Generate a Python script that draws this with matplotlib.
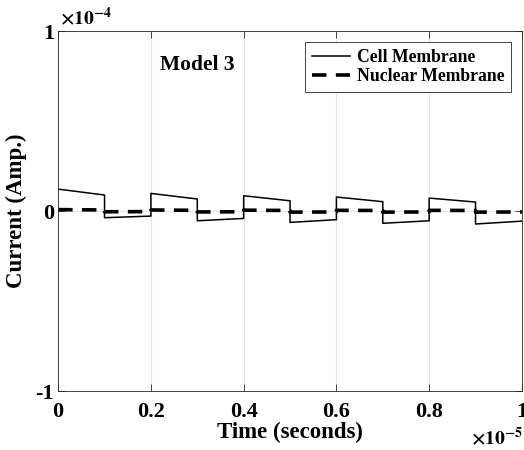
import numpy as np
import matplotlib
matplotlib.use('Agg')
import matplotlib.pyplot as plt

# switching period boundaries (seconds)
seg_edges = [0, 0.1e-5, 0.2e-5, 0.3e-5, 0.4e-5, 0.5e-5, 0.6e-5, 0.7e-5, 0.8e-5, 0.9e-5, 1.0e-5]
# cell membrane current at start / end of each segment (Amp.)
cell_start = [0.122e-4, -0.037e-4, 0.098e-4, -0.054e-4, 0.085e-4, -0.063e-4, 0.078e-4, -0.068e-4, 0.072e-4, -0.072e-4]
cell_end = [0.089e-4, -0.028e-4, 0.067e-4, -0.041e-4, 0.057e-4, -0.048e-4, 0.052e-4, -0.054e-4, 0.050e-4, -0.056e-4]
# nuclear membrane current
nuc_start = [0.008e-4, -0.004e-4, 0.006e-4, -0.005e-4, 0.005e-4, -0.006e-4, 0.004e-4, -0.006e-4, 0.004e-4, -0.006e-4]
nuc_end = [0.006e-4, -0.003e-4, 0.004e-4, -0.004e-4, 0.003e-4, -0.005e-4, 0.003e-4, -0.005e-4, 0.003e-4, -0.005e-4]

xticks = [0, 0.2e-5, 0.4e-5, 0.6e-5, 0.8e-5, 1.0e-5]
xticklabels = ['0', '0.2', '0.4', '0.6', '0.8', '1']
yticks = [-1e-4, 0, 1e-4]
yticklabels = ['-1', '0', '1']


def steps(edges, start, end):
    t = np.repeat(edges, 2)[1:-1]
    v = np.ravel(np.column_stack([start, end]))
    return t, v


plt.rcParams['font.family'] = 'Liberation Serif'
plt.rcParams['font.weight'] = 'bold'
plt.rcParams['mathtext.fontset'] = 'stix'

fig = plt.figure(figsize=(5.24, 4.5), dpi=100)
ax = fig.add_axes([0.111, 0.131, 0.885, 0.8])

t1, v1 = steps(seg_edges, cell_start, cell_end)
t2, v2 = steps(seg_edges, nuc_start, nuc_end)
ax.plot(t1, v1, color='black', lw=1.1, label='Cell Membrane')
ax.plot(t2, v2, color='black', lw=2.6, ls=(0, (4, 2.6)), label='Nuclear Membrane')

ax.set_xlim(0, 1e-5)
ax.set_ylim(-1e-4, 1e-4)
ax.set_xticks(xticks)
ax.set_xticklabels(xticklabels)
ax.set_yticks(yticks)
ax.set_yticklabels(yticklabels)
ax.tick_params(direction='in', top=True, right=True, labelsize=16, length=5,
               width=0.6, color='#262626', pad=3)
ax.tick_params(axis='x', pad=8)
ax.grid(True, color='#e6e6e6', lw=0.8)
ax.set_axisbelow(True)
for s in ax.spines.values():
    s.set_linewidth(0.6)
    s.set_color('#262626')

ax.set_xlabel('Time (seconds)', fontsize=16.5, fontweight='bold', labelpad=0)
ax.set_ylabel('Current (Amp.)', fontsize=16.5, fontweight='bold', labelpad=6)

ax.text(0.003, 1.008, r'$\times 10^{-4}$', transform=ax.transAxes, fontsize=14,
        ha='left', va='bottom', fontweight='normal')
fig.text(0.998, 0.004, r'$\times 10^{-5}$', fontsize=14,
         ha='right', va='bottom', fontweight='normal')
ax.text(0.22, 0.905, 'Model 3', transform=ax.transAxes, fontsize=15.5,
        fontweight='bold', ha='left', va='center')

leg = ax.legend(loc='upper right', handlelength=2.2,
                handletextpad=0.35, borderpad=0.4, labelspacing=0.12,
                borderaxespad=0.6, fancybox=False, framealpha=1,
                prop={'weight': 'bold', 'size': 12.7})
leg.get_frame().set_edgecolor('#262626')
leg.get_frame().set_linewidth(0.6)

fig.savefig('out.png', dpi=100)
